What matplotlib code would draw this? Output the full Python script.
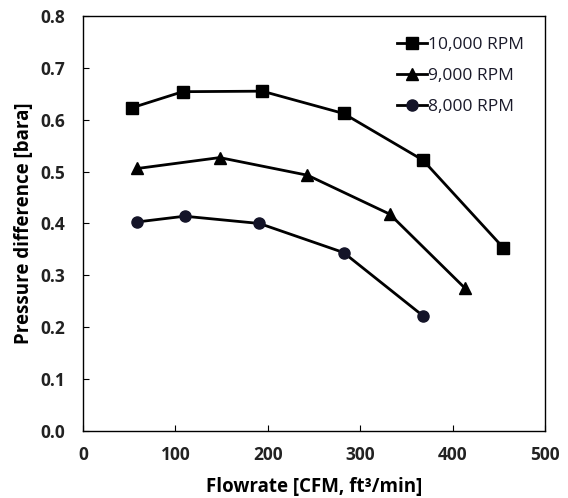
import matplotlib
matplotlib.use('Agg')
import matplotlib.pyplot as plt

plt.rcParams['font.family'] = ['Open Sans', 'DejaVu Sans']

# data
x_10k = [53, 108, 194, 282, 368, 455]
y_10k = [0.623, 0.654, 0.655, 0.612, 0.522, 0.353]
x_9k = [59, 148, 243, 332, 413]
y_9k = [0.506, 0.527, 0.493, 0.418, 0.276]
x_8k = [59, 110, 191, 282, 368]
y_8k = [0.403, 0.414, 0.400, 0.344, 0.222]

fig = plt.figure(figsize=(5.68, 4.98), dpi=100)
ax = fig.add_axes([0.146, 0.1345, 0.8135, 0.8335])

ax.plot(x_10k, y_10k, '-s', color='black', lw=2, markersize=8, label='10,000 RPM')
ax.plot(x_9k, y_9k, '-^', color='black', lw=2, markersize=8, label='9,000 RPM')
ax.plot(x_8k, y_8k, '-o', color='black', mfc='#141428', mec='#141428', lw=2,
        markersize=8, label='8,000 RPM')

ax.set_xlim(0, 500)
ax.set_ylim(0, 0.8)
ax.set_xticks(range(0, 501, 100))
ax.set_yticks([i / 10 for i in range(9)])
ax.set_yticklabels([f'{i / 10:.1f}' for i in range(9)])
ax.tick_params(direction='in', length=4, labelsize=12.5)
ax.tick_params(axis='y', pad=13)
ax.tick_params(axis='x', pad=11)
for lab in ax.get_xticklabels() + ax.get_yticklabels():
    lab.set_fontweight('bold')
    lab.set_color('#222222')

ax.set_xlabel('Flowrate [CFM, ft³/min]', fontsize=13.5, fontweight='bold', labelpad=9)
ax.set_ylabel('Pressure difference [bara]', fontsize=13.5, fontweight='bold', labelpad=4)

for s in ax.spines.values():
    s.set_linewidth(1)

ax.legend(loc='upper right', frameon=False, fontsize=12.5, handlelength=1.7,
          handletextpad=0.05, labelspacing=0.85, borderaxespad=0.7,
          bbox_to_anchor=(0.995, 0.995), labelcolor='#1a1a2a')

plt.savefig('out.png', dpi=100)
